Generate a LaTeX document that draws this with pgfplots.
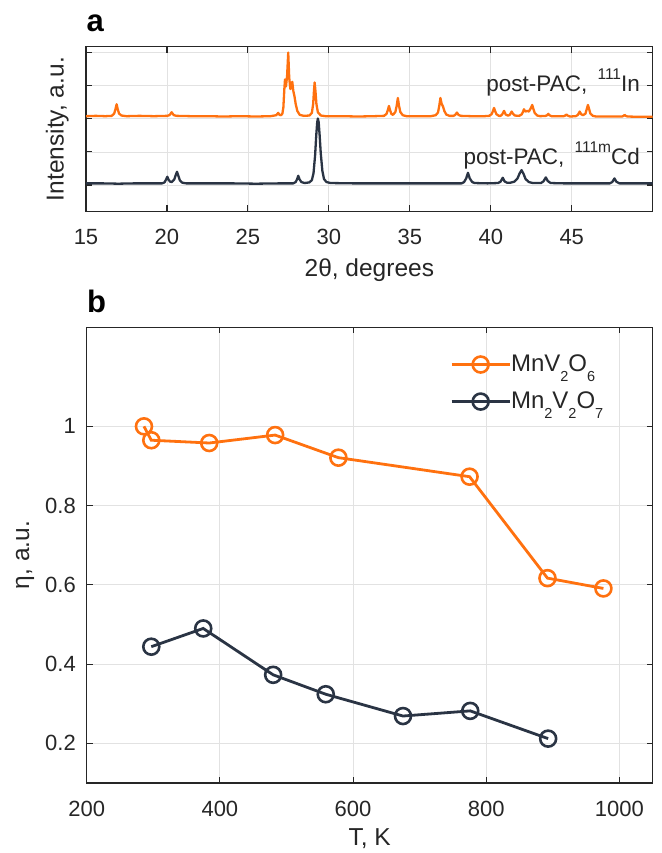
\documentclass[border=0pt]{standalone}
\usepackage{fontspec}
\setmainfont{Liberation Sans}
\usepackage{pgfplots}
\pgfplotsset{compat=1.18}
\definecolor{myorange}{RGB}{255,113,15}
\definecolor{mydark}{RGB}{42,52,68}
\definecolor{axgray}{RGB}{38,38,38}
\definecolor{gridgray}{RGB}{226,226,226}
\newcommand{\sps}[1]{\raisebox{12.5bp}{\fontsize{15.5bp}{15.5bp}\selectfont #1}}
\newcommand{\sbs}[1]{\raisebox{-10.3bp}{\fontsize{14.5bp}{14.5bp}\selectfont #1}}
\pgfplotsset{
 mystyle/.style={
  scale only axis,
  axis line style={axgray, line width=1.1bp},
  every tick/.style={axgray, line width=1.1bp},
  major tick length=6bp,
  tick align=inside,
  grid=major,
  major grid style={gridgray, line width=0.8bp},
  tick label style={text=axgray, font=\fontsize{22bp}{26bp}\selectfont},
  /pgf/number format/assume math mode=true,
  /pgf/number format/1000 sep={},
  xticklabel style={anchor=base, inner sep=0pt, yshift=-33.4bp},
  yticklabel style={anchor=east, inner sep=0pt, xshift=-10.7bp},
  label style={text=axgray, inner sep=0pt, font=\fontsize{24.5bp}{28bp}\selectfont},
 }
}
\begin{document}
\fontsize{22bp}{26bp}\selectfont
\begin{tikzpicture}
\useasboundingbox (0,0) rectangle (662bp,853bp);
\node[anchor=base west, inner sep=0pt, font=\fontsize{31bp}{32bp}\selectfont\bfseries] at (86.5bp,821.3bp) {a};
\node[anchor=base west, inner sep=0pt, font=\fontsize{31bp}{32bp}\selectfont\bfseries] at (87bp,540.3bp) {b};
\begin{axis}[mystyle,
  at={(86bp,641.5bp)}, anchor=south west,
  width=566.7bp, height=164.8bp,
  xmin=15, xmax=50, ymin=-0.8, ymax=4.18,
  xtick={15,20,25,30,35,40,45}, ytick={0,1,2,3,4}, yticklabels={},
  xlabel={2θ, degrees}, ylabel={Intensity, a.u.},
  xlabel style={at={(axis description cs:0.5,0)}, anchor=base, yshift=-65.5bp},
  ylabel style={at={(axis description cs:-0.0397,0.5)}, anchor=base},
]
\addplot[myorange, line width=2.3bp, line join=round] coordinates {
(15,2.08)(15.6,2.09)(16.2,2.08)(16.59,2.09)(16.74,2.16)(16.82,2.29)(16.89,2.44)(16.96,2.29)(17.04,2.16)(17.19,2.10)(17.5,2.08)(18.3,2.09)(19.2,2.08)(20.0,2.09)(20.15,2.11)(20.22,2.15)(20.29,2.20)(20.36,2.15)(20.43,2.11)(20.6,2.09)(21.5,2.08)(22.5,2.08)(23.5,2.07)(24.5,2.08)(25.5,2.07)(26.4,2.08)(26.75,2.11)(26.87,2.18)(26.95,2.12)(27.05,2.11)(27.13,2.16)(27.19,2.35)(27.25,2.9)(27.29,3.19)(27.35,2.98)(27.42,3.3)(27.49,4.0)(27.55,3.25)(27.62,2.9)(27.68,2.98)(27.74,3.12)(27.8,2.85)(27.88,2.67)(27.95,2.45)(28.05,2.24)(28.2,2.12)(28.45,2.09)(28.8,2.1)(28.95,2.18)(29.03,2.45)(29.08,2.85)(29.12,3.10)(29.17,2.85)(29.23,2.45)(29.32,2.2)(29.5,2.1)(29.8,2.08)(30.8,2.08)(31.8,2.07)(32.8,2.08)(33.41,2.09)(33.56,2.15)(33.64,2.26)(33.71,2.39)(33.78,2.26)(33.86,2.15)(33.96,2.12)(34.11,2.21)(34.19,2.40)(34.26,2.63)(34.33,2.40)(34.41,2.21)(34.56,2.11)(34.8,2.08)(35.6,2.08)(36.3,2.08)(36.6,2.11)(36.74,2.19)(36.82,2.40)(36.89,2.63)(36.96,2.46)(37.05,2.37)(37.13,2.24)(37.25,2.13)(37.45,2.09)(37.7,2.09)(37.8,2.12)(37.91,2.19)(38.0,2.12)(38.15,2.09)(38.8,2.08)(39.6,2.08)(39.9,2.09)(40.05,2.14)(40.13,2.23)(40.2,2.33)(40.27,2.23)(40.35,2.14)(40.5,2.09)(40.6,2.09)(40.7,2.13)(40.82,2.24)(40.92,2.13)(41.05,2.10)(41.15,2.11)(41.22,2.16)(41.29,2.22)(41.36,2.16)(41.48,2.10)(41.75,2.09)(41.9,2.13)(41.98,2.20)(42.05,2.29)(42.13,2.22)(42.25,2.24)(42.35,2.22)(42.45,2.30)(42.56,2.42)(42.63,2.30)(42.72,2.17)(42.87,2.10)(43.05,2.08)(43.4,2.09)(43.48,2.11)(43.55,2.15)(43.62,2.11)(43.75,2.08)(44.2,2.08)(44.5,2.08)(44.6,2.10)(44.67,2.13)(44.74,2.10)(44.9,2.07)(45.25,2.08)(45.38,2.12)(45.49,2.22)(45.58,2.14)(45.7,2.11)(45.85,2.16)(45.93,2.30)(46.0,2.42)(46.07,2.30)(46.15,2.16)(46.3,2.09)(46.5,2.07)(47.3,2.07)(48.1,2.07)(48.2,2.09)(48.26,2.12)(48.33,2.09)(48.45,2.07)(49.2,2.06)(50,2.06)
};
\addplot[mydark, line width=2.3bp, line join=round] coordinates {
(15,0.05)(16,0.05)(17,0.04)(18,0.05)(19,0.05)(19.7,0.05)(19.85,0.08)(19.95,0.17)(20.02,0.25)(20.1,0.16)(20.2,0.10)(20.3,0.09)(20.45,0.17)(20.55,0.31)(20.62,0.40)(20.69,0.30)(20.8,0.14)(20.95,0.07)(21.2,0.05)(22.5,0.05)(24,0.05)(25.5,0.04)(27,0.05)(27.8,0.05)(27.95,0.09)(28.04,0.18)(28.11,0.28)(28.18,0.18)(28.3,0.09)(28.5,0.06)(28.8,0.08)(28.95,0.15)(29.05,0.35)(29.15,0.9)(29.22,1.5)(29.28,1.9)(29.32,2.01)(29.37,1.9)(29.43,1.5)(29.5,0.95)(29.6,0.42)(29.7,0.18)(29.85,0.09)(30.1,0.06)(31.5,0.05)(33,0.05)(34.5,0.05)(36,0.05)(37.5,0.05)(38.2,0.05)(38.35,0.09)(38.48,0.20)(38.59,0.37)(38.7,0.20)(38.85,0.09)(39.0,0.06)(39.8,0.05)(40.45,0.06)(40.6,0.10)(40.74,0.22)(40.85,0.11)(41.0,0.07)(41.2,0.07)(41.45,0.10)(41.65,0.20)(41.78,0.35)(41.9,0.45)(42.02,0.34)(42.15,0.18)(42.35,0.09)(42.6,0.06)(43.1,0.06)(43.25,0.11)(43.4,0.23)(43.52,0.12)(43.7,0.06)(44.5,0.05)(45.5,0.05)(46.5,0.05)(47.35,0.05)(47.5,0.09)(47.64,0.20)(47.75,0.10)(47.95,0.05)(49,0.05)(50,0.05)
};
\node[anchor=base east, inner sep=0pt, text=axgray, font=\fontsize{22.5bp}{26bp}\selectfont] at (axis cs:49.22,2.82) {post-PAC,\hspace{4bp} \sps{111}In};
\node[anchor=base east, inner sep=0pt, text=axgray, font=\fontsize{22.5bp}{26bp}\selectfont] at (axis cs:49.22,0.61) {post-PAC,\hspace{4bp} \sps{111m}Cd};
\end{axis}
\begin{axis}[mystyle,
  at={(86.7bp,70bp)}, anchor=south west,
  width=566bp, height=455.7bp,
  xmin=200, xmax=1050, ymin=0.1, ymax=1.25,
  xtick={200,400,600,800,1000},
  ytick={0.2,0.4,0.6,0.8,1}, yticklabels={0.2,0.4,0.6,0.8,1},
  xlabel={T, K}, ylabel={η, a.u.},
  xlabel style={at={(axis description cs:0.5,0)}, anchor=base, yshift=-62.5bp},
  ylabel style={at={(axis description cs:-0.1019,0.5)}, anchor=base},
  legend cell align=left,
  legend image code/.code={\draw[mark repeat=2,mark phase=2] plot coordinates {(0bp,0bp)(29bp,0bp)(58bp,0bp)};},
  legend style={draw=none, fill=none, at={(axis description cs:0.642,1)}, anchor=north west, yshift=-27bp, inner sep=0pt, row sep=17bp, text=axgray,
    font=\fontsize{24bp}{28bp}\selectfont,
    nodes={inner sep=0pt}, /tikz/every even column/.append style={column sep=18bp}},
]
\addplot[myorange, line width=2.8bp, mark=o, mark size=8bp, mark options={fill=white, line width=2.6bp}] coordinates {
(286,1.0)(297,0.965)(384,0.958)(483,0.978)(578,0.921)(775,0.873)(892,0.617)(976,0.591)
};
\addlegendentry{MnV\sbs{2}O\sbs{6}}
\addplot[mydark, line width=2.8bp, mark=o, mark size=8bp, mark options={fill=white, line width=2.6bp}] coordinates {
(297,0.444)(375,0.490)(480,0.373)(559,0.324)(675,0.269)(776,0.282)(893,0.212)
};
\addlegendentry{Mn\sbs{2}V\sbs{2}O\sbs{7}}
\end{axis}
\end{tikzpicture}
\end{document}
